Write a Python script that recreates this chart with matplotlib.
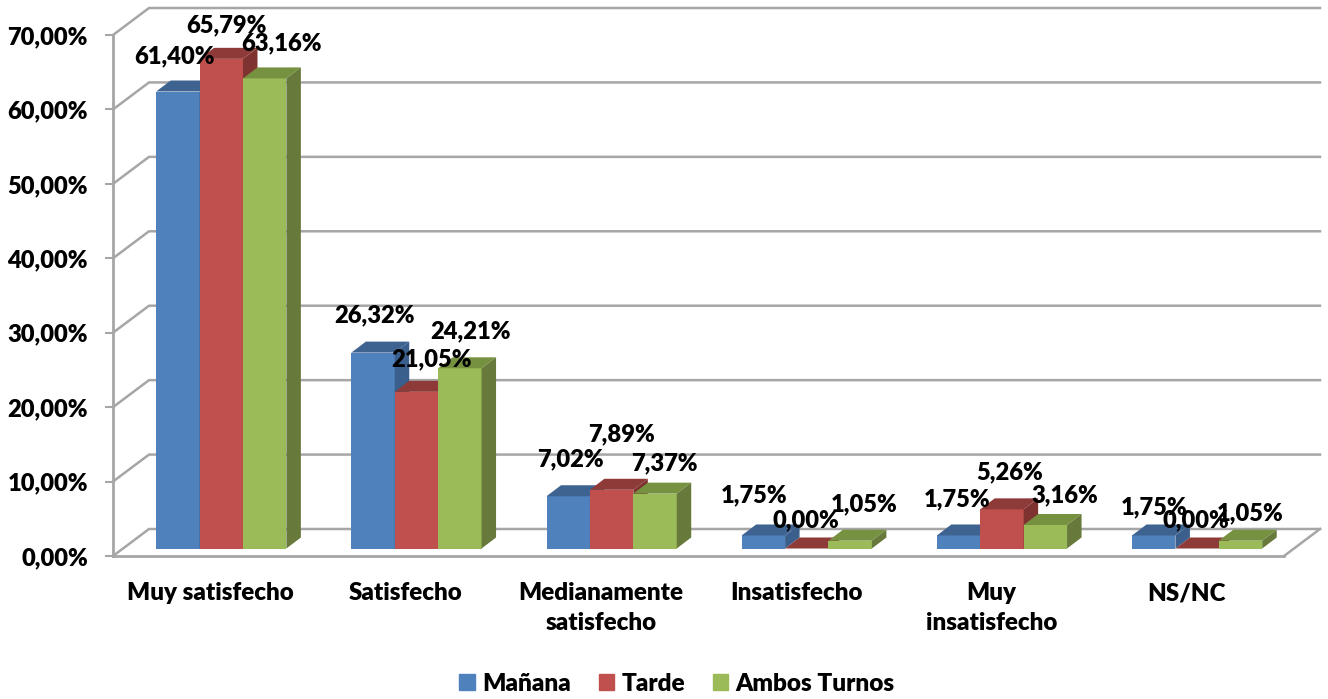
import matplotlib
matplotlib.use('Agg')
import matplotlib.pyplot as plt
from matplotlib.patches import Patch, Polygon
import numpy as np

categories = ['Muy satisfecho', 'Satisfecho', 'Medianamente\nsatisfecho',
              'Insatisfecho', 'Muy\ninsatisfecho', 'NS/NC']
manana = [61.40, 26.32, 7.02, 1.75, 1.75, 1.75]
tarde = [65.79, 21.05, 7.89, 0.00, 5.26, 0.00]
ambos = [63.16, 24.21, 7.37, 1.05, 3.16, 1.05]
series_names = ['Mañana', 'Tarde', 'Ambos Turnos']
y_ticks = [0, 10, 20, 30, 40, 50, 60, 70]

W, H = 1328, 699
GRID = '#A6A6A6'
plt.rcParams['font.family'] = ['Lato', 'DejaVu Sans']
plt.rcParams['font.weight'] = 'heavy'
plt.rcParams['font.size'] = 17.1

fig = plt.figure(figsize=(W / 100, H / 100), dpi=100)
ax = fig.add_axes([113 / W, (H - 556) / H, 1171 / W, 521 / H])
ax.set_xlim(0, 6)
ax.set_ylim(0, 70)

# pixel sizes to data units
px_x = 6 / 1171
px_y = 70 / 521
depth_x, depth_y = 36 * px_x, 27 * px_y

# walls and floor
for t in y_ticks:
    ax.plot([0, depth_x, 6 + depth_x], [t, t + depth_y, t + depth_y],
            color=GRID, lw=1.8, clip_on=False, zorder=1)
ax.plot([6, 6 + depth_x], [0, depth_y], color=GRID, lw=1.8, clip_on=False, zorder=1)

for s in ['top', 'right']:
    ax.spines[s].set_visible(False)
for s in ['left', 'bottom']:
    ax.spines[s].set_color(GRID)
    ax.spines[s].set_linewidth(2)
ax.patch.set_visible(False)

ax.set_yticks(y_ticks)
ax.set_yticklabels(['%d,00%%' % t for t in y_ticks])
ax.tick_params(axis='y', length=6, width=1.5, color=GRID, pad=12)
ax.set_xticks(np.arange(6) + 0.5)
ax.set_xticklabels(categories, linespacing=1.45, fontsize=17.4)
ax.tick_params(axis='x', length=0, pad=19)

# bars
bar_w = 43.4 * px_x
base_x = 10.7 * px_x
base_y = 7.5 * px_y
bar_dx = 14.5 * px_x
bar_dy = 11 * px_y
all_series = [manana, tarde, ambos]
front = ['#4F81BD', '#C0504D', '#9BBB59']
top = ['#3F6391', '#8E3A38', '#76913F']
side = ['#3A5F8C', '#7F3331', '#677A3C']

for g in range(len(categories)):
    for k, values in enumerate(all_series):
        v = values[g]
        x0 = g + 0.5 + base_x + (k - 1.5) * bar_w
        x1 = x0 + bar_w
        y0 = base_y
        y1 = base_y + v
        ax.bar(x0, v, bar_w, bottom=y0, align='edge', color=front[k], lw=0, zorder=3, clip_on=False)
        ax.add_patch(Polygon([(x0, y1), (x1, y1), (x1 + bar_dx, y1 + bar_dy), (x0 + bar_dx, y1 + bar_dy)],
                             closed=True, fc=top[k], lw=0, zorder=3, clip_on=False))
        ax.add_patch(Polygon([(x1, y0), (x1 + bar_dx, y0 + bar_dy), (x1 + bar_dx, y1 + bar_dy), (x1, y1)],
                             closed=True, fc=side[k], lw=0, zorder=3, clip_on=False))

# label nudges from the bar top, in pixels, the chart places them unevenly
nudge_x = [[-3, 5, 17], [1, 15, 11], [2, 10, 9], [-9, -1, 14], [-1, 8, 19], [0, -1, 10]]
nudge_y = [[35, 34, 35], [37, 33, 37], [37, 55, 30], [40, 28, 36], [36, 37, 30], [28, 28, 27]]
for g in range(len(categories)):
    for k, values in enumerate(all_series):
        v = values[g]
        x = g + 0.5 + base_x + (k - 1) * bar_w + nudge_x[g][k] * px_x
        y = base_y + v + nudge_y[g][k] * px_y
        ax.text(x, y, ('%.2f%%' % v).replace('.', ','), ha='center', va='center',
                zorder=5, clip_on=False)

handles = [Patch(color=c, label=n) for c, n in zip(front, series_names)]
fig.legend(handles=handles, loc='center', bbox_to_anchor=(677 / W, (H - 684) / H), ncol=3, frameon=False,
           fontsize=17.6, handlelength=0.62, handleheight=0.62, handletextpad=0.3, columnspacing=1.15,
           borderpad=0, borderaxespad=0)

fig.savefig('out.png', dpi=100)
